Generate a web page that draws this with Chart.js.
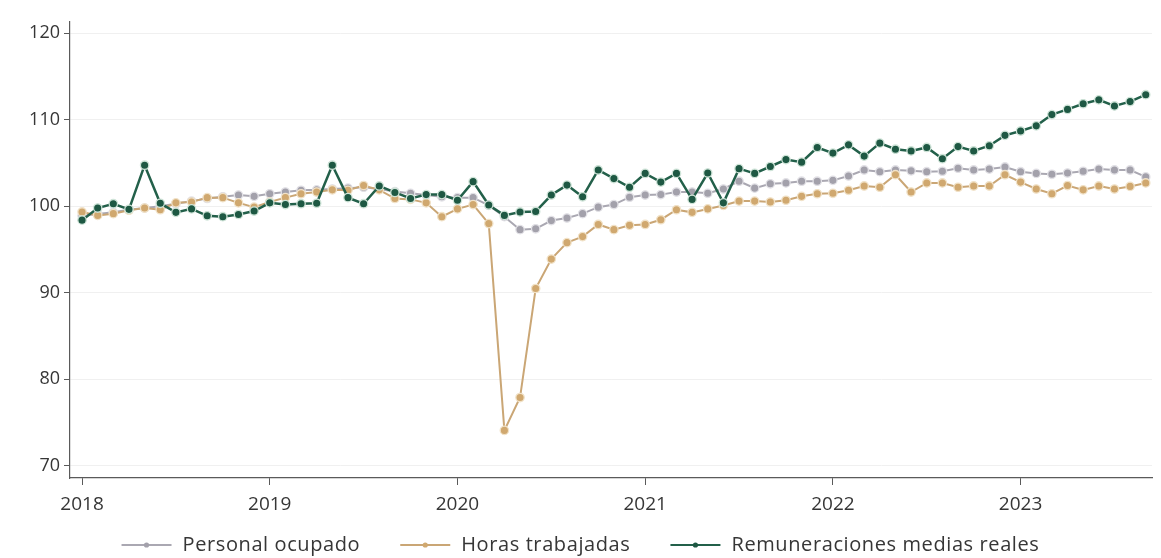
<!DOCTYPE html>
<html>
<head>
<meta charset="utf-8">
<script src="https://cdn.jsdelivr.net/npm/chart.js@4.4.0/dist/chart.umd.min.js"></script>
<style>
  html, body { margin: 0; padding: 0; background: #ffffff; }
  #wrap { width: 1161px; height: 558px; }
</style>
</head>
<body>
<div id="wrap"><canvas id="chart" width="1161" height="558"></canvas></div>
<script>
// Monthly index, January 2018 = base period
const months = [
  '2018-01','2018-02','2018-03','2018-04','2018-05','2018-06','2018-07','2018-08','2018-09','2018-10','2018-11','2018-12',
  '2019-01','2019-02','2019-03','2019-04','2019-05','2019-06','2019-07','2019-08','2019-09','2019-10','2019-11','2019-12',
  '2020-01','2020-02','2020-03','2020-04','2020-05','2020-06','2020-07','2020-08','2020-09','2020-10','2020-11','2020-12',
  '2021-01','2021-02','2021-03','2021-04','2021-05','2021-06','2021-07','2021-08','2021-09','2021-10','2021-11','2021-12',
  '2022-01','2022-02','2022-03','2022-04','2022-05','2022-06','2022-07','2022-08','2022-09','2022-10','2022-11','2022-12',
  '2023-01','2023-02','2023-03','2023-04','2023-05','2023-06','2023-07','2023-08','2023-09'
];

const yearLabels = ['2018', '2019', '2020', '2021', '2022', '2023'];
const yearTickIndex = [0, 12, 24, 36, 48, 60];
const yTickValues = [70, 80, 90, 100, 110, 120];

const personalOcupado = [
  98.9, 99.1, 99.3, 99.6, 99.8, 100.0, 100.3, 100.6, 100.9, 101.1, 101.3, 101.15,
  101.45, 101.65, 101.85, 101.9, 102.0, 102.1, 102.2, 102.0, 101.7, 101.5, 101.3, 101.1,
  101.0, 101.0, 100.1, 98.8, 97.3, 97.4, 98.35, 98.65, 99.15, 99.9, 100.2, 101.05,
  101.3, 101.35, 101.65, 101.65, 101.5, 102.0, 102.9, 102.1, 102.6, 102.7, 102.9, 102.9,
  103.0, 103.5, 104.2, 104.0, 104.2, 104.1, 104.0, 104.05, 104.4, 104.2, 104.3, 104.55,
  104.0, 103.8, 103.7, 103.85, 104.05, 104.3, 104.2, 104.2, 103.4
];

const horasTrabajadas = [
  99.35, 98.95, 99.15, 99.55, 99.8, 99.6, 100.4, 100.5, 101.0, 101.0, 100.4, 99.9,
  100.5, 101.0, 101.45, 101.65, 101.9, 101.85, 102.4, 101.9, 100.9, 100.8, 100.4, 98.8,
  99.7, 100.2, 98.0, 74.1, 77.9, 90.5, 93.9, 95.8, 96.5, 97.9, 97.3, 97.8,
  97.9, 98.45, 99.6, 99.3, 99.7, 100.1, 100.6, 100.6, 100.5, 100.7, 101.15, 101.45,
  101.5, 101.85, 102.35, 102.2, 103.65, 101.65, 102.7, 102.7, 102.2, 102.35, 102.35, 103.65,
  102.8, 102.0, 101.45, 102.4, 101.9, 102.35, 102.0, 102.3, 102.7
];

const remuneracionesReales = [
  98.4, 99.8, 100.3, 99.65, 104.75, 100.35, 99.3, 99.7, 98.9, 98.8, 99.05, 99.45,
  100.4, 100.2, 100.3, 100.35, 104.75, 101.0, 100.3, 102.35, 101.6, 100.9, 101.35, 101.35,
  100.7, 102.85, 100.15, 98.95, 99.35, 99.4, 101.3, 102.45, 101.1, 104.2, 103.2, 102.2,
  103.8, 102.8, 103.8, 100.8, 103.85, 100.4, 104.35, 103.8, 104.6, 105.4, 105.1, 106.8,
  106.15, 107.1, 105.8, 107.3, 106.6, 106.4, 106.8, 105.5, 106.9, 106.4, 107.0, 108.2,
  108.7, 109.3, 110.6, 111.2, 111.85, 112.3, 111.6, 112.1, 112.9
];

const seriesNames = ['Personal ocupado', 'Horas trabajadas', 'Remuneraciones medias reales'];

const FONT = '"Open Sans", "Noto Sans", sans-serif';
const TEXT = '#363636';
const AXIS = '#5a5a5a';

// pair each value with its month position on the x scale
function toPoints(values) {
  return values.map((v, i) => ({ x: i, y: v }));
}

const styles = [
  { line: '#aaa8b2', fill: '#a3a1ab', edge: '#e2e1e6', width: 2 },
  { line: '#caa675', fill: '#d0a86f', edge: '#f1e2c8', width: 2 },
  { line: '#23604a', fill: '#1e5843', edge: '#cfe4d8', width: 2.5 }
];

const seriesValues = [personalOcupado, horasTrabajadas, remuneracionesReales];

const datasets = seriesValues.map((vals, k) => ({
  label: seriesNames[k],
  data: toPoints(vals),
  borderColor: styles[k].line,
  borderWidth: styles[k].width,
  pointBackgroundColor: styles[k].fill,
  pointBorderColor: styles[k].edge,
  pointBorderWidth: 1.3,
  pointRadius: 4.2,
  tension: 0,
  order: 2 - k
}));

// legend drawn below the axis: line with a dot, then the series name
const bottomLegend = {
  id: 'bottomLegend',
  afterDraw(chart) {
    const ctx = chart.ctx;
    ctx.save();
    ctx.font = '20px ' + FONT;
    if ('letterSpacing' in ctx) ctx.letterSpacing = '0.6px';
    const sym = 50, gapText = 11, gapItem = 40;
    const widths = seriesNames.map(n => ctx.measureText(n).width);
    const total = widths.reduce((a, w) => a + sym + gapText + w, 0) + gapItem * (seriesNames.length - 1);
    let x = (chart.width - total) / 2;
    const y = 545;
    seriesNames.forEach((name, k) => {
      ctx.strokeStyle = styles[k].line;
      ctx.lineWidth = 2;
      ctx.beginPath();
      ctx.moveTo(x, y);
      ctx.lineTo(x + sym, y);
      ctx.stroke();
      ctx.fillStyle = styles[k].fill;
      ctx.beginPath();
      ctx.arc(x + sym / 2, y, 2.6, 0, Math.PI * 2);
      ctx.fill();
      ctx.fillStyle = TEXT;
      ctx.textBaseline = 'middle';
      ctx.textAlign = 'left';
      ctx.fillText(name, x + sym + gapText, y);
      x += sym + gapText + widths[k] + gapItem;
    });
    ctx.restore();
  }
};

new Chart(document.getElementById('chart'), {
  type: 'line',
  data: { datasets },
  options: {
    responsive: false,
    animation: false,
    layout: { padding: { left: 0, right: 9, top: 22, bottom: 40 } },
    plugins: { legend: { display: false }, tooltip: { enabled: false } },
    scales: {
      x: {
        type: 'linear',
        min: -0.77,
        max: 68.4,
        afterBuildTicks(scale) { scale.ticks = yearTickIndex.map(v => ({ value: v })); },
        afterFit(scale) { scale.height = 40; },
        ticks: {
          callback: (v) => yearLabels[yearTickIndex.indexOf(v)],
          font: { family: FONT, size: 19 },
          color: TEXT,
          padding: 8,
          maxRotation: 0
        },
        grid: { drawOnChartArea: false, drawTicks: true, tickLength: 7, tickColor: AXIS, tickWidth: 1 },
        border: { display: true, color: AXIS, width: 1.2 }
      },
      y: {
        min: 68.6,
        max: 121.3,
        afterBuildTicks(scale) { scale.ticks = yTickValues.map(v => ({ value: v })); },
        afterFit(scale) { scale.width = 70; },
        ticks: {
          font: { family: FONT, size: 18 },
          color: TEXT,
          padding: 4
        },
        grid: { color: '#f0f0f0', lineWidth: 1, tickLength: 6, tickColor: AXIS, tickWidth: 1 },
        border: { display: true, color: AXIS, width: 1.2 }
      }
    }
  },
  plugins: [bottomLegend]
});
</script>
</body>
</html>
